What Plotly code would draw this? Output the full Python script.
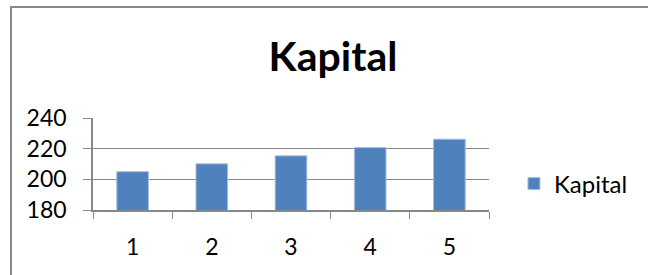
import plotly.graph_objects as go

categories = ["1", "2", "3", "4", "5"]
kapital = [205.0, 210.1, 215.3, 220.7, 226.2]
y_ticks = [180, 200, 220, 240]

W, H = 648, 275
L, R, T, B = 93, 159, 118, 65
pw, ph = W - L - R, H - T - B

fig = go.Figure()
fig.add_trace(go.Bar(
    x=categories, y=kapital, name="Kapital",
    marker=dict(color="#4F81BD", line=dict(color="#A9C1E0", width=1)),
    width=0.4,
))

grid = "#888888"
fig.update_layout(
    width=W, height=H,
    margin=dict(l=L, r=R, t=T, b=B, pad=0, autoexpand=False),
    paper_bgcolor="white", plot_bgcolor="white",
    font=dict(family="Lato", size=23, color="black"),
    title=dict(text="<b>Kapital</b>", font=dict(family="Lato", size=41, color="black"),
               x=333 / W, xanchor="center", xref="container",
               y=1 - 57 / H, yanchor="middle", yref="container"),
    showlegend=True,
    legend=dict(x=1.063, xanchor="left", y=(H - B - 184) / ph, yanchor="middle",
                font=dict(family="Lato", size=24, color="black"),
                bgcolor="rgba(0,0,0,0)", itemwidth=30),
    bargap=0.6,
)
fig.update_yaxes(
    range=[180, 240], tickvals=y_ticks, showgrid=True, gridcolor=grid, gridwidth=1,
    showline=True, linecolor=grid, linewidth=1.5,
    ticks="outside", ticklen=8, tickcolor=grid, tickwidth=1,
    ticklabelstandoff=12, zeroline=False,
)
fig.update_xaxes(
    showline=True, linecolor=grid, linewidth=1.5,
    ticks="outside", ticklen=7, tickcolor=grid, tickwidth=1,
    tickson="boundaries", showgrid=False, ticklabelstandoff=16,
)

def px_x(px):
    return (px - L) / pw

def px_y(py):
    return (H - B - py) / ph

# outer chart-area border
fig.add_shape(type="rect", xref="paper", yref="paper",
              x0=px_x(11), x1=px_x(W + 20), y0=px_y(7), y1=px_y(H + 20),
              line=dict(color="#888888", width=2), fillcolor="rgba(0,0,0,0)", layer="below")

fig.write_html("out.html", config={"displayModeBar": False},
               post_script="document.body.style.margin='0';")
